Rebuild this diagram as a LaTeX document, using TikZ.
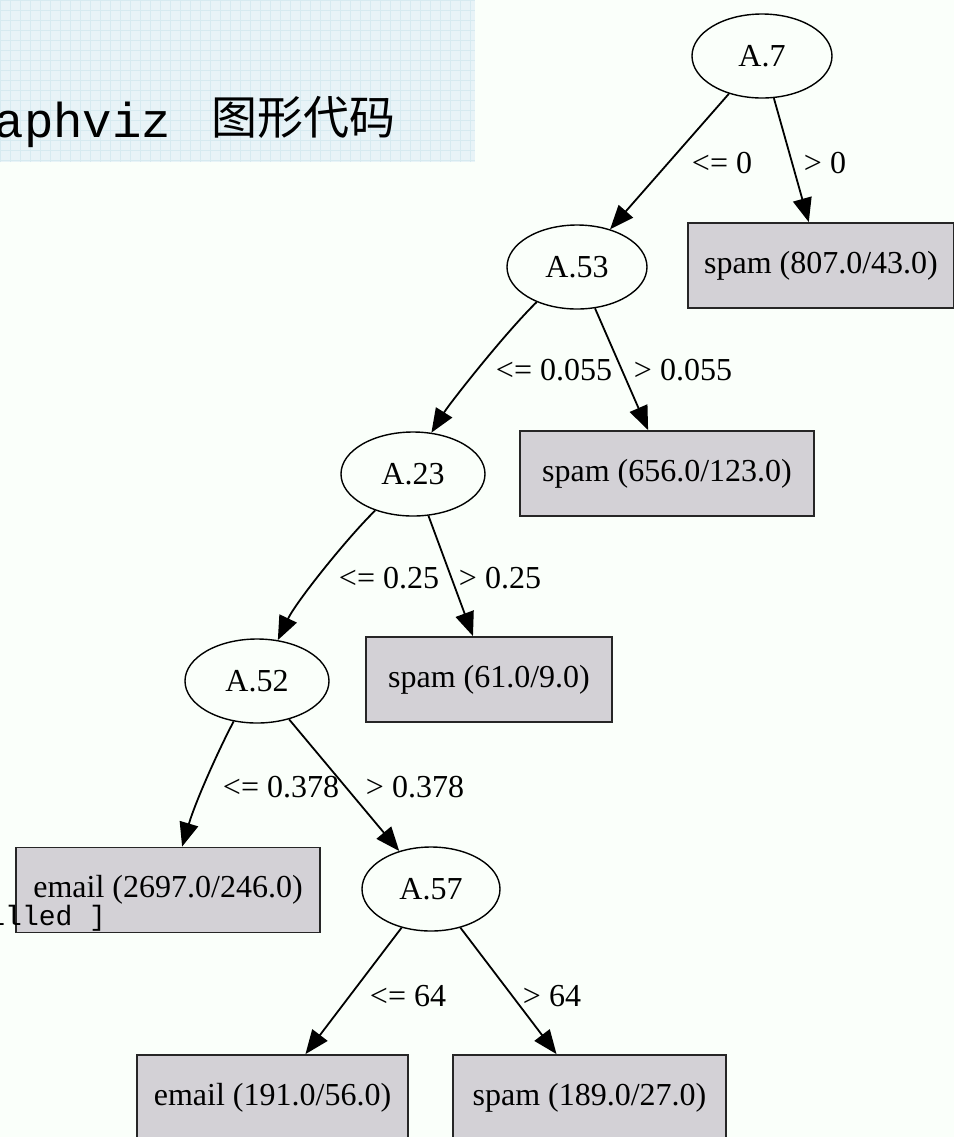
\documentclass[tikz,border=0pt]{standalone}
\usepackage{fontspec}
\setmainfont{Liberation Serif}
\setmonofont{Liberation Mono}
\newfontfamily\cjk{Noto Sans CJK SC}
\usetikzlibrary{arrows.meta,positioning,shapes.geometric}
\definecolor{leafgray}{HTML}{D3D1D6}
\definecolor{slideblue}{HTML}{E8F3F7}
\definecolor{slidegrid}{HTML}{D6EAF0}

\begin{document}
\begin{tikzpicture}[x=0.5pt,y=-0.5pt,
  test/.style={ellipse,draw,line width=0.7pt,minimum width=70pt,minimum height=42pt,inner sep=0pt,font=\fontsize{16}{19}\selectfont},
  leaf/.style={rectangle,draw=black!85,line width=0.9pt,fill=leafgray,minimum height=42.5pt,inner sep=0pt,font=\fontsize{16}{19}\selectfont},
  cut/.style={font=\fontsize{16}{19}\selectfont,inner sep=0pt},
  edge/.style={line width=0.9pt,-{Triangle[length=12pt,width=9.5pt]}}]
\useasboundingbox (0,0) rectangle (954,1137);
\fill[white!98!green] (0,0) rectangle (954,1137);
% slide background behind the tree
\fill[slideblue] (0,0) rectangle (475,162);
\draw[slidegrid,line width=0.3pt,step=5pt] (0,0) grid (475,162);
\node[anchor=base west,inner sep=0pt,font=\fontsize{24.5}{29}\selectfont\ttfamily] (code) at (-35,137) {raphviz};
\node[anchor=base west,inner sep=0pt,font=\fontsize{23}{27}\selectfont\cjk] (codecn) at (211,134) {图形代码};
% decision nodes
\node[test] (a7) at (762,56) {A.7};
\node[test] (a53) at (577,267) {A.53};
\node[test,minimum width=72pt] (a23) at (413,474) {A.23};
\node[test,minimum width=72pt] (a52) at (257,681) {A.52};
\node[test,minimum width=69pt] (a57) at (431,889) {A.57};
% leaves
\node[leaf,minimum width=133pt] (s807) at (821,265.5) {spam (807.0/43.0)};
\node[leaf,minimum width=147pt] (s656) at (667,473.5) {spam (656.0/123.0)};
\node[leaf,minimum width=123pt] (s61) at (489,679.5) {spam (61.0/9.0)};
\node[leaf,minimum width=152pt] (e2697) at (168,890) {email (2697.0/246.0)};
\node[leaf,minimum width=135.5pt] (e191) at (272.5,1097.5) {email (191.0/56.0)};
\node[leaf,minimum width=136.5pt] (s189) at (589.5,1097.5) {spam (189.0/27.0)};
% branches
\draw[edge] (a7) -- (a53);
\draw[edge] (a7) -- (s807);
\draw[edge] (a53.221) .. controls (505,333) and (450,403) .. (a23.66);
\draw[edge] (a53) -- (s656);
\draw[edge] (a23.224) .. controls (347,538) and (296,602) .. (a52.63);
\draw[edge] (a23) -- (s61);
\draw[edge] (a52.240) .. controls (220,747) and (196,800) .. (e2697.72);
\draw[edge] (a52) -- (a57);
\draw[edge] (a57) -- (e191);
\draw[edge] (a57) -- (s189);
% branch labels
\node[cut] (l7a) at (722,163) {<= 0};
\node[cut] (l7b) at (825,163) {> 0};
\node[cut] (l53a) at (554,370) {<= 0.055};
\node[cut] (l53b) at (683,370) {> 0.055};
\node[cut] (l23a) at (389,578) {<= 0.25};
\node[cut] (l23b) at (500,578) {> 0.25};
\node[cut] (l52a) at (281,787) {<= 0.378};
\node[cut] (l52b) at (415,787) {> 0.378};
\node[cut] (l57a) at (408,996) {<= 64};
\node[cut] (l57b) at (552,996) {> 64};
\node[anchor=base west,inner sep=0pt,font=\fontsize{14}{17}\selectfont\ttfamily] (tail) at (-12,925) {illed ]};
\end{tikzpicture}
\end{document}
